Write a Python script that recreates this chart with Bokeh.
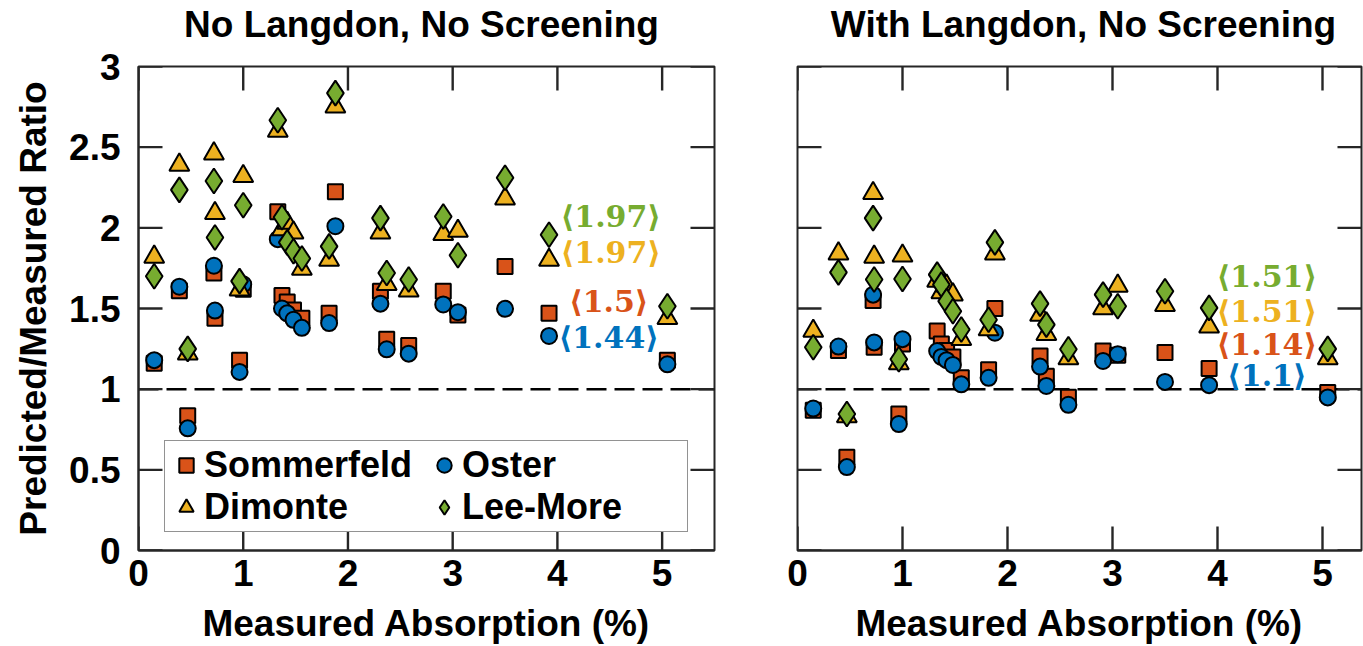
from bokeh.plotting import figure
from bokeh.layouts import row, column
from bokeh.models import Range1d, FixedTicker, Span, Legend, LegendItem, ColumnDataSource
from bokeh.embed import file_html
from bokeh.resources import INLINE
from bokeh.core.properties import value

# ---------------- data ----------------
absorption = [0.15, 0.39, 0.47, 0.72, 0.73, 1.00, 0.965, 1.33, 1.37, 1.42, 1.48, 1.56,
              1.82, 1.88, 2.31, 2.37, 2.58, 2.91, 3.05, 3.50, 3.92, 5.05]

# No Langdon, No Screening
nl_sommerfeld = [1.16, 1.61, 0.835, 1.72, 1.44, 1.62, 1.18, 2.10, 1.58, 1.54, 1.49, 1.44,
                 1.47, 2.224, 1.607, 1.31, 1.27, 1.607, 1.46, 1.76, 1.47, 1.18]
nl_oster = [1.18, 1.635, 0.757, 1.765, 1.487, 1.65, 1.107, 1.93, 1.50, 1.47, 1.43, 1.38,
            1.41, 2.01, 1.53, 1.247, 1.22, 1.525, 1.477, 1.498, 1.33, 1.154]
nl_dimonte = [1.82, 2.39, 1.22, 2.46, 2.09, 2.32, 1.617, 2.60, 1.99, 2.03, 1.97, 1.745,
              1.80, 2.75, 1.97, 1.65, 1.61, 1.96, 1.98, 2.18, 1.80, 1.44]
nl_leemore = [1.70, 2.235, 1.25, 2.29, 1.94, 2.14, 1.67, 2.667, 2.066, 1.91, 1.855, 1.81,
              1.885, 2.835, 2.06, 1.72, 1.68, 2.07, 1.83, 2.31, 1.957, 1.514]

# With Langdon, No Screening
wl_sommerfeld = [0.87, 1.24, 0.578, 1.55, 1.26, 1.28, 0.846, 1.36, 1.28, 1.24, 1.20, 1.07,
                 1.12, 1.50, 1.206, 1.08, 0.95, 1.236, 1.21, 1.227, 1.128, 0.98]
wl_oster = [0.88, 1.264, 0.517, 1.586, 1.29, 1.31, 0.784, 1.236, 1.20, 1.18, 1.15, 1.03,
            1.07, 1.35, 1.14, 1.02, 0.903, 1.175, 1.216, 1.045, 1.025, 0.949]
wl_dimonte = [1.36, 1.84, 0.83, 2.214, 1.82, 1.827, 1.16, 1.67, 1.60, 1.64, 1.586, 1.31,
              1.37, 1.84, 1.46, 1.34, 1.19, 1.50, 1.64, 1.52, 1.387, 1.19]
wl_leemore = [1.26, 1.724, 0.846, 2.06, 1.68, 1.683, 1.185, 1.71, 1.648, 1.545, 1.483, 1.37,
              1.43, 1.91, 1.53, 1.40, 1.247, 1.586, 1.514, 1.607, 1.504, 1.25]

series_names = ["Sommerfeld", "Oster", "Dimonte", "Lee-More"]
series_colors = ["#D95319", "#0072BD", "#EDB120", "#77AC30"]
series_markers = ["square", "circle", "triangle", "diamond"]
series_sizes = [15, 16, 20, 25]

x_ticks = [0, 1, 2, 3, 4, 5]
y_ticks = [0, 0.5, 1, 1.5, 2, 2.5, 3]
y_tick_labels = ["0", "0.5", "1", "1.5", "2", "2.5", "3"]
x_tick_labels = ["0", "1", "2", "3", "4", "5"]

titles = ["No Langdon, No Screening", "With Langdon, No Screening"]

left_means = ["⟨1.97⟩", "⟨1.97⟩", "⟨1.5⟩", "⟨1.44⟩"]
left_mean_x = [4.51, 4.51, 4.49, 4.49]
left_mean_y = [2.07, 1.845, 1.543, 1.32]
right_means = ["⟨1.51⟩", "⟨1.51⟩", "⟨1.14⟩", "⟨1.1⟩"]
right_mean_x = [4.47, 4.47, 4.47, 4.47]
right_mean_y = [1.70, 1.483, 1.278, 1.082]
mean_colors = ["#77AC30", "#EDB120", "#D95319", "#0072BD"]

FONT = "Liberation Sans"
AX = "#262626"
FS = "36px"
FS_BIG = "37px"
FS_TICK = "37px"
TICK_PX = 24
TICK_W = 2.4
FRAME_H = 486
TITLE_H = 45
PLOT_H = 646 - TITLE_H


def style_axis(ax, ticks, labels):
    ax.ticker = FixedTicker(ticks=ticks)
    ax.major_tick_in = 0
    ax.major_tick_out = 0
    ax.minor_tick_in = 0
    ax.minor_tick_out = 0
    ax.axis_line_color = AX
    ax.axis_line_width = 2
    ax.major_label_overrides = {t: l for t, l in zip(ticks, labels)}
    ax.major_label_text_font = FONT
    ax.major_label_text_font_style = "bold"
    ax.major_label_text_font_size = FS_TICK
    ax.major_label_text_color = "black"


def make_title(text, width, center_x):
    t = figure(width=width, height=TITLE_H, x_range=Range1d(0, width),
               y_range=Range1d(0, TITLE_H), output_backend="svg", toolbar_location=None,
               x_axis_location=None, y_axis_location=None, min_border=0)
    t.grid.visible = False
    t.outline_line_color = None
    t.background_fill_color = "white"
    t.border_fill_color = "white"
    t.text(x=[center_x], y=[TITLE_H - 24], text=[text], text_font=value(FONT),
           text_font_size=FS_BIG, text_font_style="bold", text_color="black",
           text_align="center", text_baseline="middle")
    return t


def make_panel(width, x_end, frame_w, mb_left, mb_right, values, means, mx, my,
               ylabel, legend):
    top = 66 - TITLE_H
    p = figure(width=width, height=PLOT_H, x_range=Range1d(0, x_end), y_range=Range1d(0, 3),
               output_backend="svg", toolbar_location=None,
               min_border_left=mb_left, min_border_right=mb_right,
               min_border_top=top, min_border_bottom=PLOT_H - top - FRAME_H)
    p.grid.visible = False
    p.outline_line_color = AX
    p.outline_line_width = 2
    p.background_fill_color = "white"
    p.border_fill_color = "white"

    xb = p.xaxis[0]
    style_axis(xb, x_ticks, x_tick_labels)
    xb.major_label_standoff = 9
    xb.axis_label = "Measured Absorption (%)"
    xb.axis_label_text_font = FONT
    xb.axis_label_text_font_size = FS_BIG
    xb.axis_label_text_font_style = "bold"
    xb.axis_label_text_color = "black"
    xb.axis_label_standoff = 14

    yl = p.yaxis[0]
    if ylabel:
        style_axis(yl, y_ticks, y_tick_labels)
        yl.major_label_standoff = 18
        yl.axis_label = "Predicted/Measured Ratio"
        yl.axis_label_text_font = FONT
        yl.axis_label_text_font_size = FS_BIG
        yl.axis_label_text_font_style = "bold"
        yl.axis_label_text_color = "black"
        yl.axis_label_standoff = 12
    else:
        yl.visible = False

    # inward tick marks on all four sides of the box, as thin filled bars
    lx = TICK_PX * x_end / frame_w
    ly = TICK_PX * 3.0 / FRAME_H
    vx, vy = [], []
    for t in x_ticks:
        vx += [t, t]
        vy += [ly / 2, 3.0 - ly / 2]
    hx, hy = [], []
    for t in y_ticks:
        hx += [lx / 2, x_end - lx / 2]
        hy += [t, t]
    p.rect(x=vx, y=vy, width=TICK_W, height=TICK_PX, width_units="screen",
           height_units="screen", fill_color=AX, line_color=None)
    p.rect(x=hx, y=hy, width=TICK_PX, height=TICK_W, width_units="screen",
           height_units="screen", fill_color=AX, line_color=None)

    p.add_layout(Span(location=1, dimension="width", line_color="black", line_width=2.5,
                      line_dash="20 8", level="underlay"))

    renderers = []
    for name, vals, col, mk, sz in zip(series_names, values, series_colors, series_markers,
                                       series_sizes):
        src = ColumnDataSource(dict(x=absorption, y=vals))
        r = p.scatter("x", "y", source=src, marker=mk, size=sz, fill_color=col,
                      line_color="black", line_width=2)
        renderers.append((name, r))

    tsrc = ColumnDataSource(dict(x=mx, y=my, t=means, c=mean_colors))
    p.text("x", "y", text="t", source=tsrc, text_color="c", text_font=value("DejaVu Serif"),
           text_font_style="bold", text_font_size="30px", text_align="center",
           text_baseline="middle")

    if legend:
        items = [LegendItem(label=n, renderers=[r]) for n, r in renderers]
        lg = Legend(items=items, location=(26, 18), orientation="horizontal", ncols=2,
                    label_text_font=FONT, label_text_font_size=FS, label_text_font_style="bold",
                    label_text_color="black", glyph_width=36, glyph_height=36,
                    label_standoff=0, spacing=0, padding=3, margin=0, label_width=222,
                    border_line_color=AX, border_line_width=1.5, background_fill_alpha=1.0)
        p.add_layout(lg, "center")
    return p


W1, W2 = 760, 603
F1, F2 = 576, 564
p1 = make_panel(W1, 5.5, F1, 138, W1 - 138 - F1,
                [nl_sommerfeld, nl_oster, nl_dimonte, nl_leemore],
                left_means, left_mean_x, left_mean_y, True, True)
p2 = make_panel(W2, F2 / 105, F2, 37, W2 - 37 - F2,
                [wl_sommerfeld, wl_oster, wl_dimonte, wl_leemore],
                right_means, right_mean_x, right_mean_y, False, False)
t1 = make_title(titles[0], W1, 138 + F1 / 2 - 5)
t2 = make_title(titles[1], W2, 37 + F2 / 2 + 4)

layout = column(row(t1, t2, spacing=0), row(p1, p2, spacing=0), spacing=0)
open("out.html", "w").write(file_html(layout, INLINE))
